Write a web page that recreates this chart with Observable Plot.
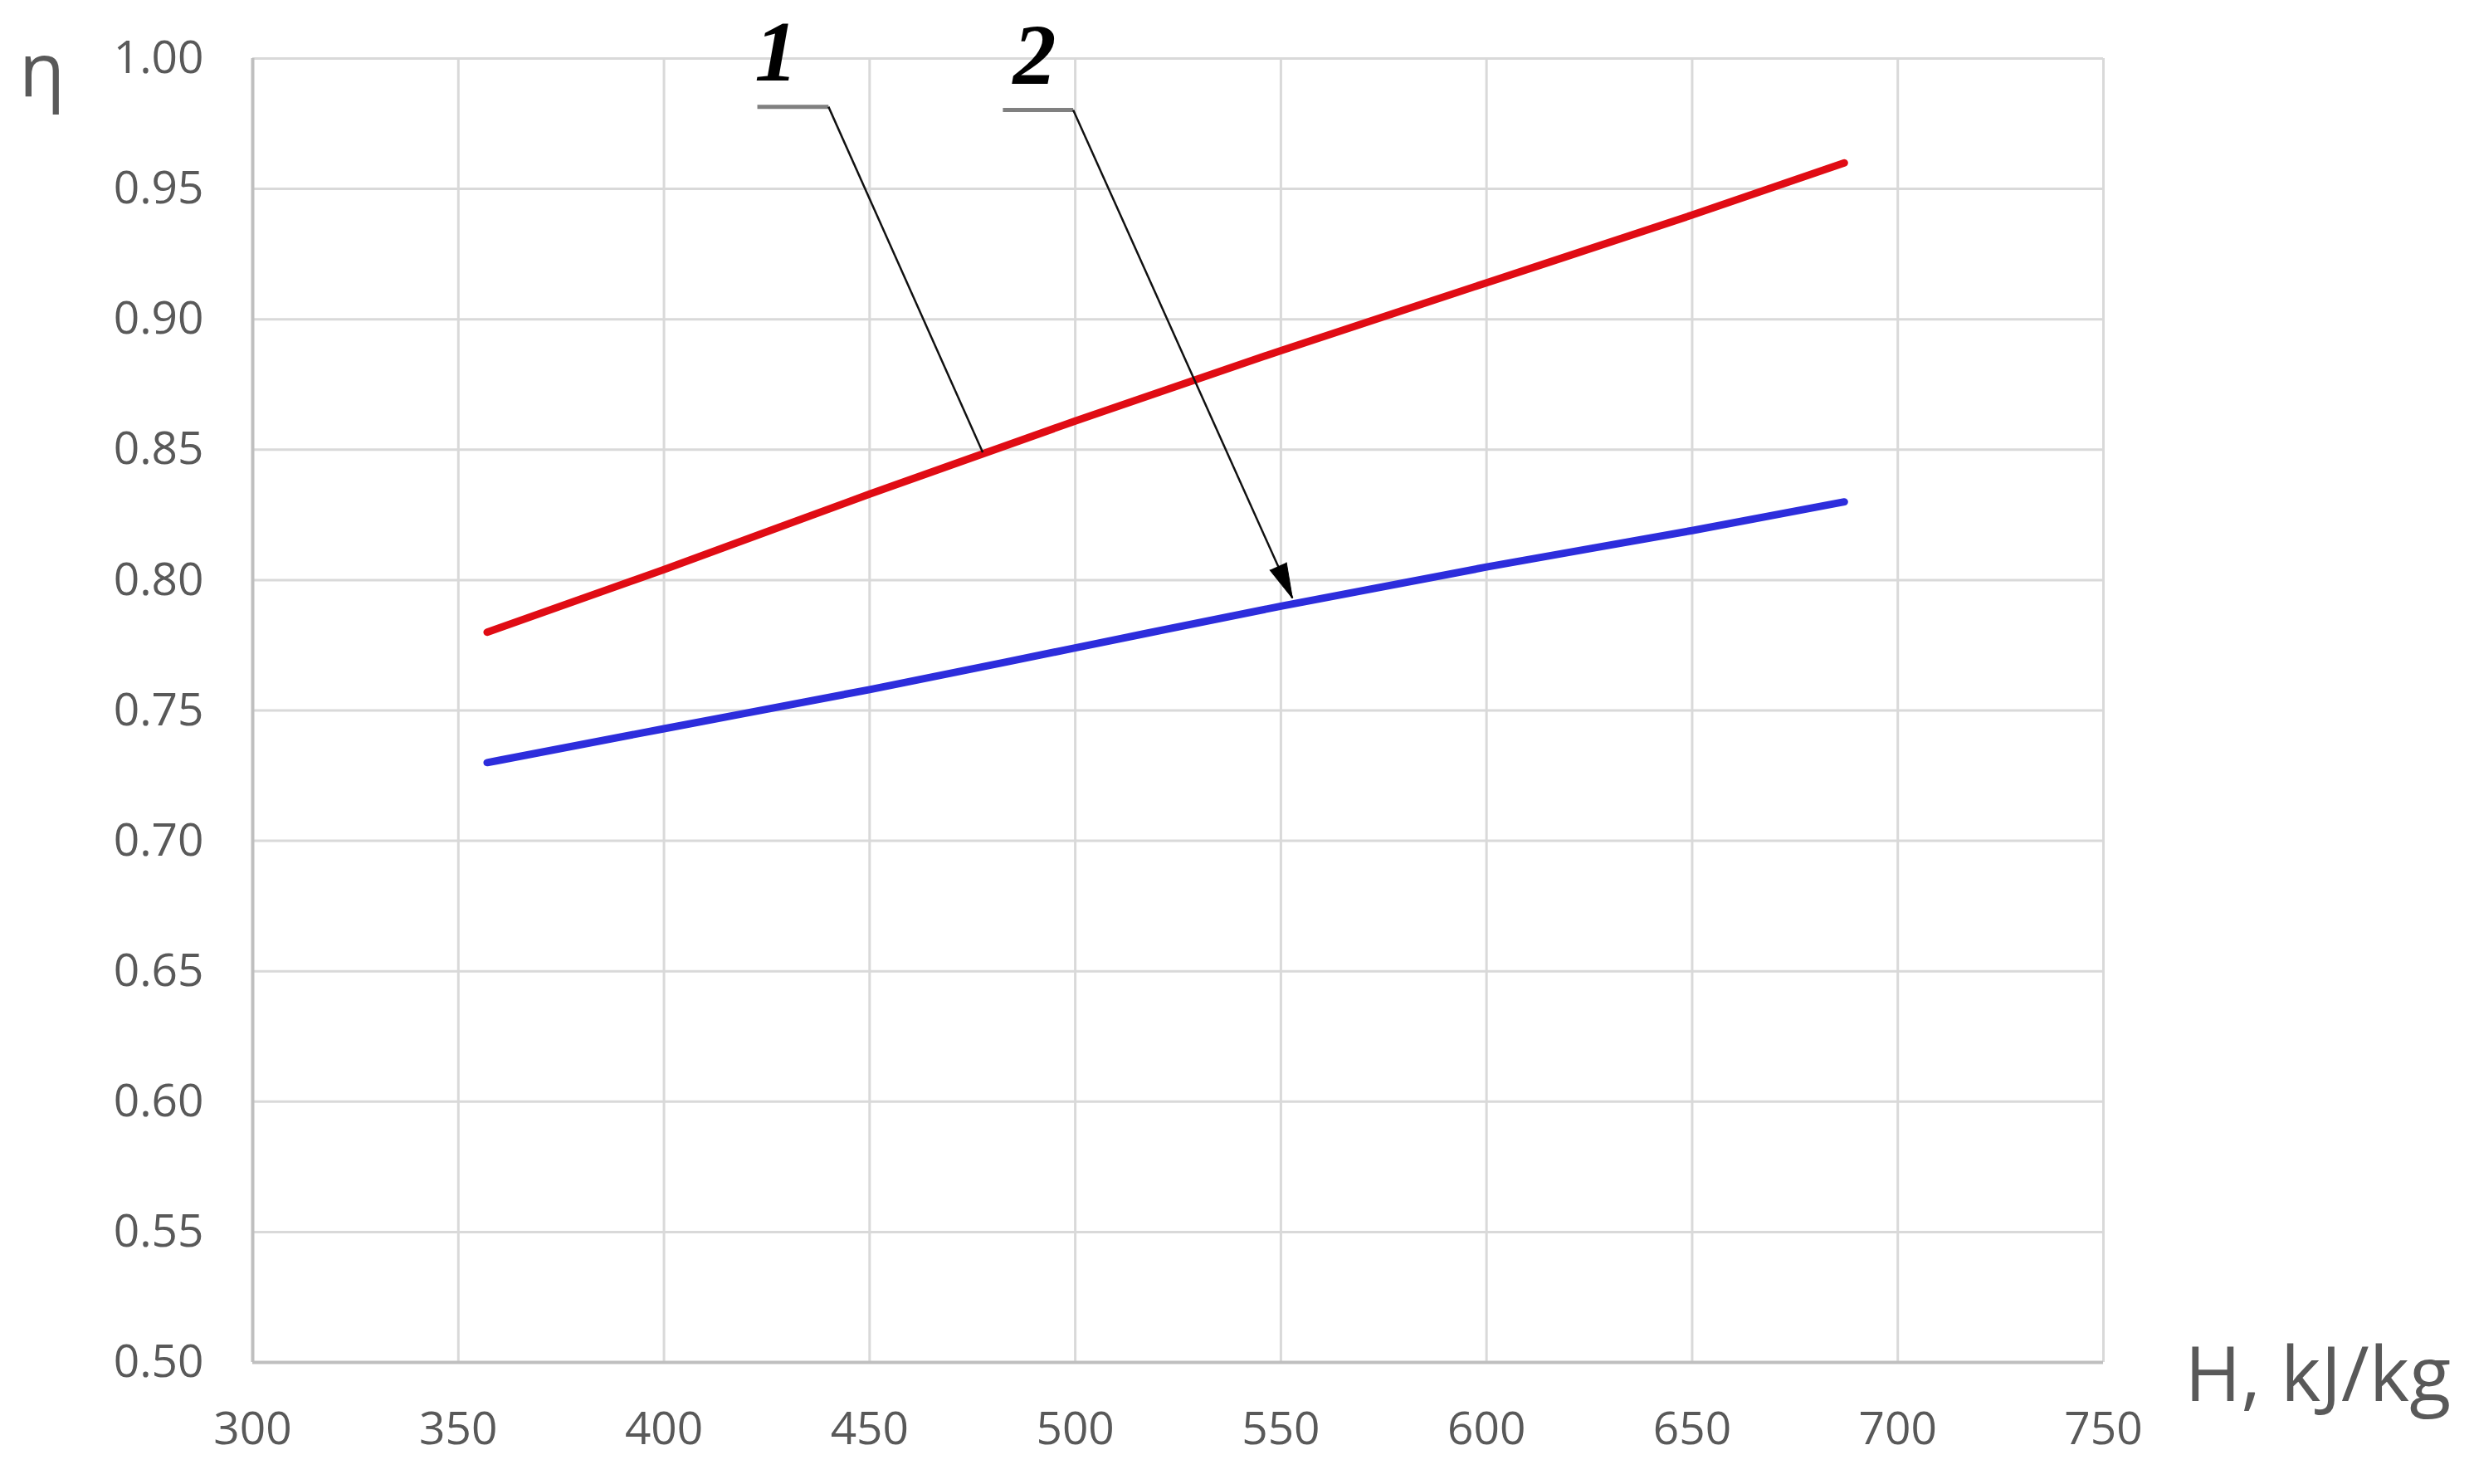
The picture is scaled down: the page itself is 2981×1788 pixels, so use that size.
<!DOCTYPE html>
<html><head><meta charset="utf-8">
<script src="https://cdn.jsdelivr.net/npm/d3@7"></script>
<script src="https://cdn.jsdelivr.net/npm/@observablehq/plot@0.6"></script>
<style>html,body{margin:0;padding:0;background:#fff;}</style>
</head><body><div id="chart"></div>
<script>
// ---- data ----
const H = [357, 400, 450, 500, 550, 600, 650, 687];
const eta1 = [0.780, 0.804, 0.833, 0.861, 0.888, 0.914, 0.940, 0.960];
const eta2 = [0.730, 0.743, 0.758, 0.774, 0.790, 0.805, 0.819, 0.830];
const xTicks = [300, 350, 400, 450, 500, 550, 600, 650, 700, 750];
const yTicks = [0.50, 0.55, 0.60, 0.65, 0.70, 0.75, 0.80, 0.85, 0.90, 0.95, 1.00];
// callouts (in data units)
const calloutLabels = ["1", "2"];
const labelH = [427.3, 490.1];
const labelEta = [1.002, 1.001];
const shelfH1 = [422.7, 482.4];
const shelfH2 = [440.0, 499.5];
const shelfEta = [0.9815, 0.9803];
const pointerH = [477.5, 552.8];
const pointerEta = [0.849, 0.7931];

// ---- build ----
const W = 2981, HT = 1788;
const mL = 304, mR = 447, mT = 70, mB = 147;
const xDomain = [300, 750], yDomain = [0.5, 1.0];

const series1 = H.map((h, i) => ({h, eta: eta1[i]}));
const series2 = H.map((h, i) => ({h, eta: eta2[i]}));
const callouts = calloutLabels.map((t, i) => ({
  t, lx: labelH[i], ly: labelEta[i], s1: shelfH1[i], s2: shelfH2[i], sy: shelfEta[i], px: pointerH[i], py: pointerEta[i]
}));

const pxX = (W - mL - mR) / (xDomain[1] - xDomain[0]);
const pxY = (HT - mT - mB) / (yDomain[1] - yDomain[0]);
const arrowAngle = Math.atan2((pointerH[1] - shelfH2[1]) * pxX, -(shelfEta[1] - pointerEta[1]) * pxY) * 180 / Math.PI;

const chart = Plot.plot({
  width: W, height: HT,
  marginLeft: mL, marginRight: mR, marginTop: mT, marginBottom: mB,
  style: {fontFamily: "'Open Sans', 'Noto Sans', sans-serif", background: "#fff", color: "#595959"},
  x: {domain: xDomain},
  y: {domain: yDomain},
  marks: [
    Plot.ruleX(xTicks, {stroke: "#d9d9d9", strokeWidth: 3}),
    Plot.ruleY(yTicks, {stroke: "#d9d9d9", strokeWidth: 3}),
    Plot.ruleX([xDomain[0]], {stroke: "#bfbfbf", strokeWidth: 4}),
    Plot.ruleY([yDomain[0]], {stroke: "#bfbfbf", strokeWidth: 4}),
    Plot.axisX(xTicks, {tickSize: 0, tickPadding: 59, fontSize: 55, fill: "#595959", tickFormat: d => String(d), label: null}),
    Plot.axisY(yTicks, {tickSize: 0, tickPadding: 59, fontSize: 55, fill: "#595959", tickFormat: d3.format(".2f"), label: null}),
    Plot.line(series1, {x: "h", y: "eta", curve: "monotone-x", stroke: "#e00c14", strokeWidth: 9, strokeLinecap: "round"}),
    Plot.line(series2, {x: "h", y: "eta", curve: "monotone-x", stroke: "#2d2ddc", strokeWidth: 9, strokeLinecap: "round"}),
    // callouts
    Plot.link(callouts, {x1: "s1", x2: "s2", y1: "sy", y2: "sy", stroke: "#808080", strokeWidth: 5}),
    Plot.link(callouts, {x1: "s2", y1: "sy", x2: "px", y2: "py", stroke: "#111", strokeWidth: 2.5}),
    Plot.vector([callouts[1]], {x: "px", y: "py", rotate: arrowAngle, length: 42, r: 11, shape: "spike", anchor: "end", fill: "#000", stroke: "#000", strokeWidth: 1}),
    Plot.text(callouts, {x: "lx", y: "ly", text: "t", fontSize: 104, fontWeight: "bold", fontStyle: "italic", fontFamily: "'Liberation Serif', 'Times New Roman', serif", fill: "#000"}),
    // axis titles
    Plot.text(["η"], {frameAnchor: "top-left", dx: -254, dy: -18, fontSize: 90, fill: "#595959", textAnchor: "middle"}),
    Plot.text(["H, kJ/kg"], {frameAnchor: "bottom-right", dx: 98, dy: 46, fontSize: 92, fill: "#595959", textAnchor: "start"})
  ]
});
document.getElementById("chart").appendChild(chart);
</script>
</body></html>
